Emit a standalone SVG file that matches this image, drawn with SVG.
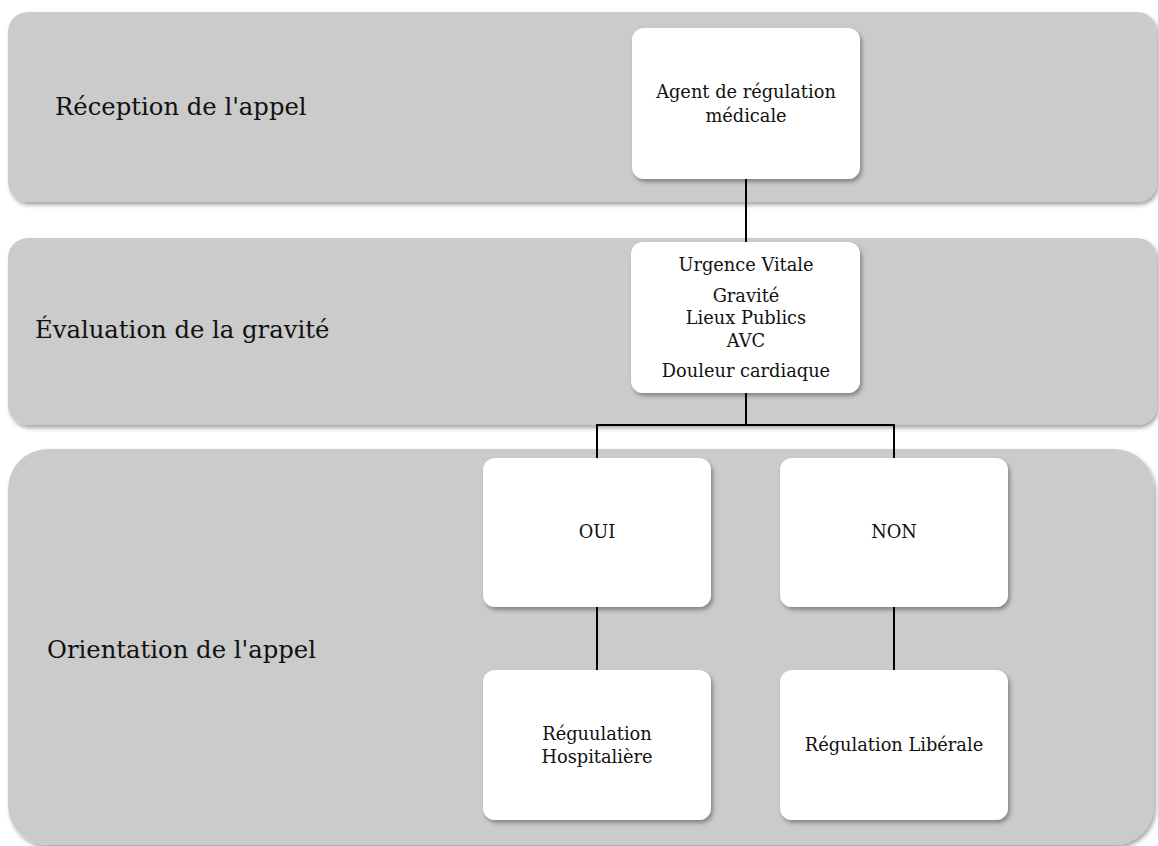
<svg xmlns="http://www.w3.org/2000/svg" width="1158" height="846" viewBox="0 0 1158 846">
<defs>
<filter id="sh" x="-10%" y="-10%" width="120%" height="130%">
<feDropShadow dx="2" dy="3" stdDeviation="2" flood-color="#000" flood-opacity="0.35"/>
</filter>
<style>
.band{fill:#cbcbcb;filter:url(#sh)}
.node{fill:#ffffff;filter:url(#sh)}
.lbl{font-family:"DejaVu Serif","Liberation Serif",serif;font-size:24.3px;fill:#111}
.t{font-family:"DejaVu Serif","Liberation Serif",serif;font-size:17.8px;fill:#111;text-anchor:middle}
.c{stroke:#000;stroke-width:2;fill:none}
</style>
</defs>
<rect width="1158" height="846" fill="#fff"/>
<g id="band-reception">
<rect class="band" x="8" y="12" width="1149" height="190" rx="20"/>
<text class="lbl" x="55" y="115">Réception de l'appel</text>
</g>
<g id="band-evaluation">
<rect class="band" x="8" y="238" width="1149" height="187" rx="20"/>
<text class="lbl" x="35" y="338">Évaluation de la gravité</text>
</g>
<g id="band-orientation">
<rect class="band" x="8" y="449" width="1146" height="396" rx="40"/>
<text class="lbl" x="47" y="658">Orientation de l'appel</text>
</g>
<g id="connectors">
<path class="c" d="M746 179V242"/>
<path class="c" d="M746 393V425M597 425H894M597 424V458M894 424V458"/>
<path class="c" d="M597 607V670"/>
<path class="c" d="M894 607V670"/>
</g>
<g id="node-agent">
<rect class="node" x="632" y="28" width="228" height="151" rx="12"/>
<text class="t" x="746" y="98">Agent de régulation</text>
<text class="t" x="746" y="122">médicale</text>
</g>
<g id="node-criteres">
<rect class="node" x="631" y="242" width="229" height="151" rx="12"/>
<text class="t" x="746" y="271">Urgence Vitale</text>
<text class="t" x="746" y="302">Gravité</text>
<text class="t" x="746" y="324">Lieux Publics</text>
<text class="t" x="746" y="347">AVC</text>
<text class="t" x="746" y="377">Douleur cardiaque</text>
</g>
<g id="node-oui">
<rect class="node" x="483" y="458" width="228" height="149" rx="12"/>
<text class="t" x="597" y="538">OUI</text>
</g>
<g id="node-non">
<rect class="node" x="780" y="458" width="228" height="149" rx="12"/>
<text class="t" x="894" y="538">NON</text>
</g>
<g id="node-hospitaliere">
<rect class="node" x="483" y="670" width="228" height="150" rx="12"/>
<text class="t" x="597" y="740">Réguulation</text>
<text class="t" x="597" y="763">Hospitalière</text>
</g>
<g id="node-liberale">
<rect class="node" x="780" y="670" width="228" height="150" rx="12"/>
<text class="t" x="894" y="751">Régulation Libérale</text>
</g>
</svg>
